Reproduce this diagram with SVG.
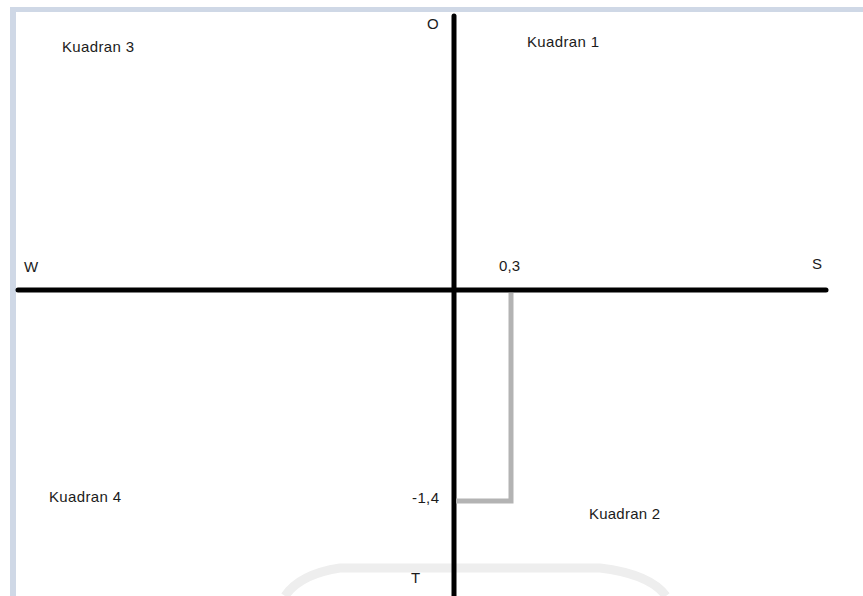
<svg xmlns="http://www.w3.org/2000/svg" width="863" height="596" viewBox="0 0 863 596">
<style>
.t{font-family:"Liberation Sans",Arial,sans-serif;font-size:15px;fill:#1b1b1b}
.axis{stroke:#000;stroke-width:5;stroke-linecap:round;fill:none}
.guide{stroke:#b3b3b3;stroke-width:5;fill:none}
.wm{fill:none;stroke:#eeeeee;stroke-width:9}
</style>
<rect x="0" y="0" width="863" height="596" fill="#fff"/>
<rect x="10" y="7" width="853" height="5" fill="#cfd8e6"/>
<rect x="10" y="7" width="6" height="589" fill="#cfd8e6"/>
<path class="wm" d="M285 596 Q300 574 340 568 L600 568 Q650 574 666 596"/>
<g id="connectors">
<line class="axis" x1="454" y1="16" x2="454" y2="600"/>
<line class="axis" x1="18" y1="290" x2="826" y2="290"/>
<polyline class="guide" points="511,293 511,501 456,501"/>
</g>
<g id="label-O"><text class="t" x="427" y="29">O</text></g>
<g id="label-T"><text class="t" x="411" y="583">T</text></g>
<g id="label-W"><text class="t" x="24" y="272">W</text></g>
<g id="label-S"><text class="t" x="812" y="269">S</text></g>
<g id="label-03"><text class="t" x="499" y="271" textLength="21">0,3</text></g>
<g id="label-m14"><text class="t" x="412" y="503" textLength="27">-1,4</text></g>
<g id="kuadran-1"><text class="t" x="527" y="47" textLength="72">Kuadran 1</text></g>
<g id="kuadran-2"><text class="t" x="589" y="519" textLength="71">Kuadran 2</text></g>
<g id="kuadran-3"><text class="t" x="62" y="52" textLength="72">Kuadran 3</text></g>
<g id="kuadran-4"><text class="t" x="49" y="502" textLength="72">Kuadran 4</text></g>
</svg>
